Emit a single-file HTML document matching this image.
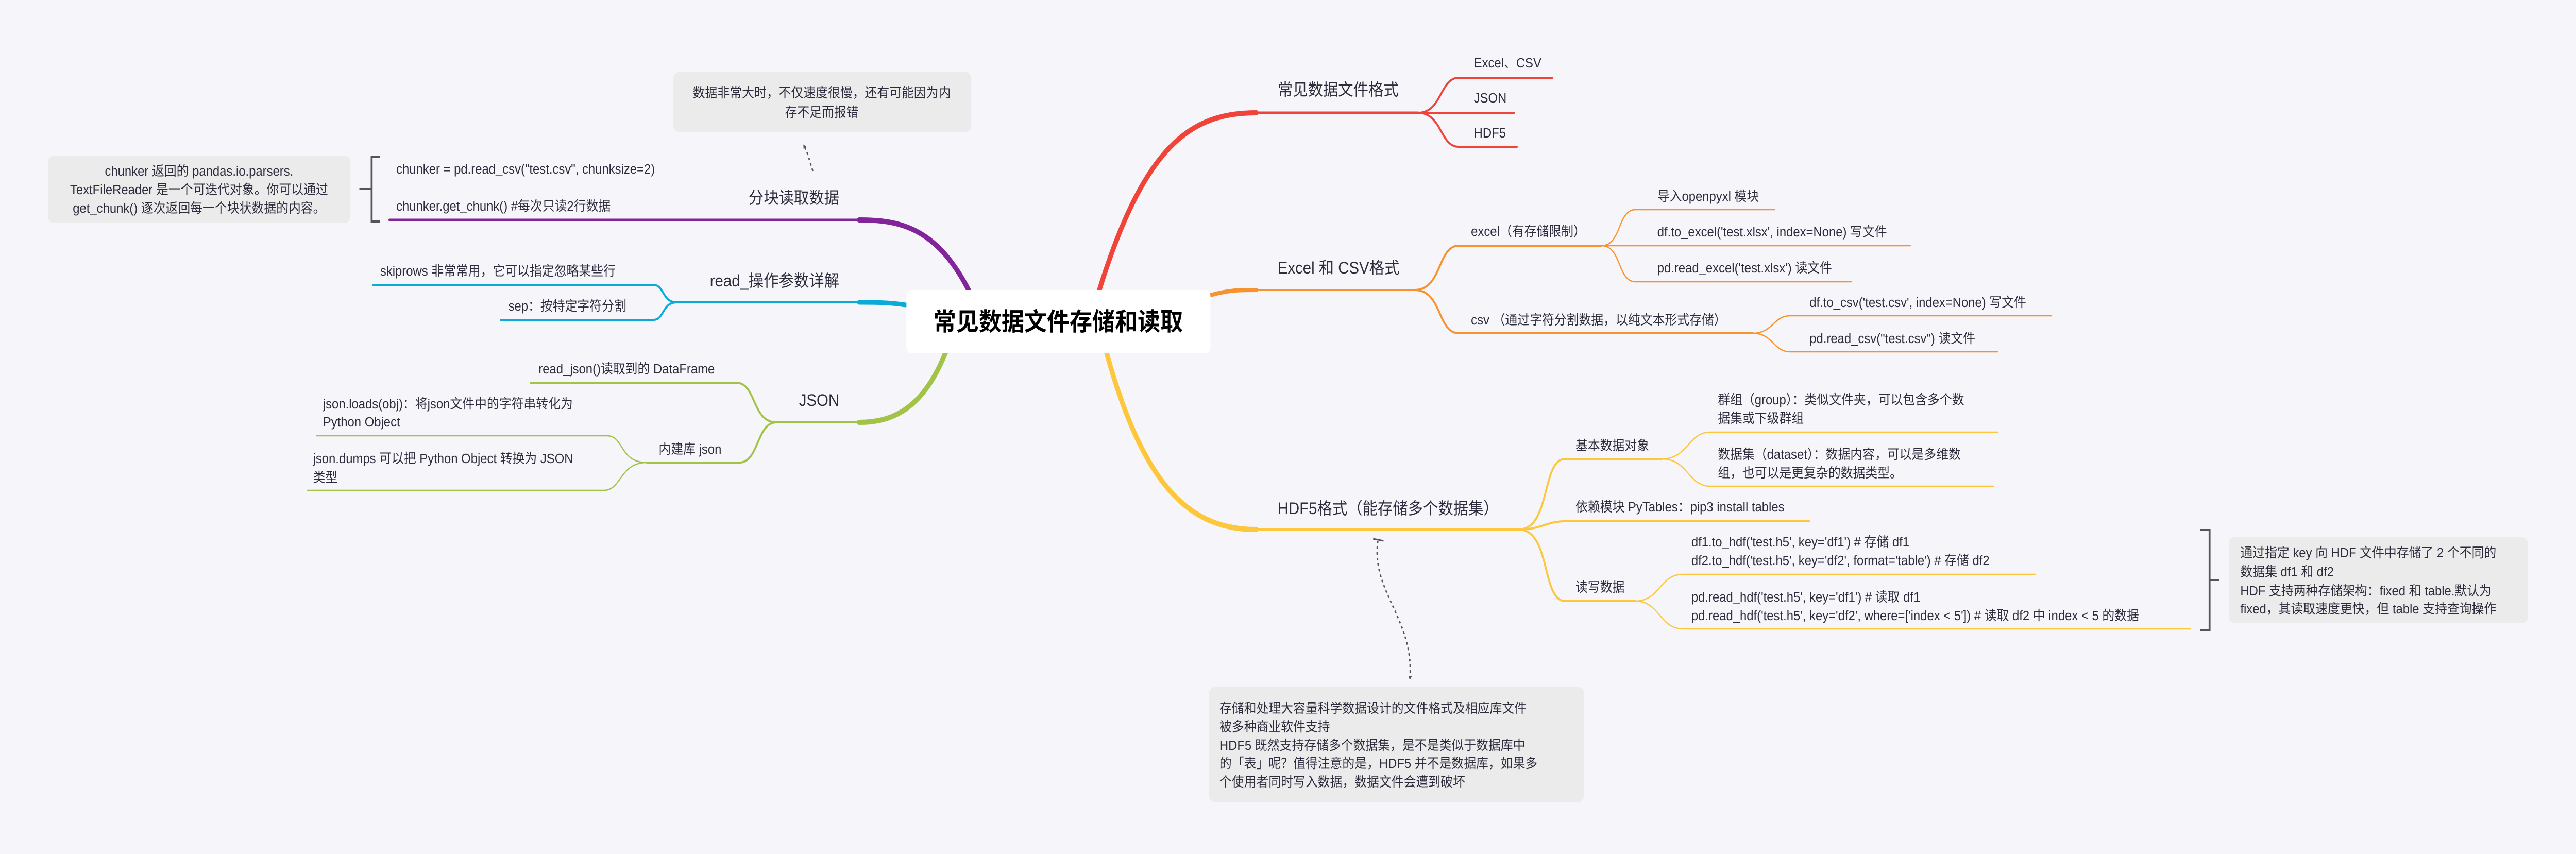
<!DOCTYPE html>
<html><head><meta charset="utf-8"><style>
html,body{margin:0;padding:0;background:#f5f5fa;width:100%;height:100%;overflow:hidden;}
svg{display:block;position:absolute;left:0;top:0;width:100vw;height:100vh;}
text{font-family:"Liberation Sans","Noto Sans CJK SC",sans-serif;fill:#2c2c3c;}
</style></head><body>
<svg viewBox="0 0 5448 1658" preserveAspectRatio="none" xmlns="http://www.w3.org/2000/svg">
<defs>
<marker id="ah" markerWidth="8" markerHeight="8" refX="4" refY="4" orient="auto" markerUnits="userSpaceOnUse" viewBox="0 0 8 8"><path d="M0,0 L8,4 L0,8 z" fill="#555"/></marker>
</defs>
<rect width="5448" height="1658" fill="#f5f5fa"/>

<rect x="1424" y="140" width="630" height="116" rx="12" fill="#ebebeb"/>
<rect x="102" y="302" width="639" height="131" rx="12" fill="#ebebeb"/>
<rect x="2557" y="1334" width="793" height="223" rx="12" fill="#ebebeb"/>
<rect x="4714" y="1043" width="632" height="167" rx="12" fill="#ebebeb"/>

<g fill="none" stroke-linecap="round">
<path d="M2324,566 C2420,280 2520,219 2657,219" stroke="#f0433a" stroke-width="10"/>
<path d="M2657,219 L2999,219" stroke="#f0433a" stroke-width="5"/>
<path d="M2999,219 C3050,219 3045,151 3085,151 L3283,151 M2999,219 L3202,219 M2999,219 C3050,219 3045,285 3085,285 L3208,285" stroke="#f0433a" stroke-width="4"/>

<path d="M2560,573 C2600,563 2620,563 2657,563" stroke="#f8922f" stroke-width="8"/>
<path d="M2657,563 L2992,563" stroke="#f8922f" stroke-width="4"/>
<path d="M2992,563 C3050,563 3040,477 3085,477 L3387,477 M2992,563 C3050,563 3040,647 3085,647 L3707,647" stroke="#f8922f" stroke-width="4"/>
<path d="M3387,477 C3430,477 3420,407 3459,407 L3753,407 M3387,477 L4040,477 M3387,477 C3430,477 3420,547 3459,547 L3915,547 M3707,647 C3750,647 3750,613 3786,613 L4339,613 M3707,647 C3750,647 3750,683 3786,683 L4225,683" stroke="#f8922f" stroke-width="2.5"/>

<path d="M2340,684 C2420,950 2520,1028 2657,1028" stroke="#fcc73c" stroke-width="10"/>
<path d="M2657,1028 L3212,1028" stroke="#fcc73c" stroke-width="4"/>
<path d="M3212,1028 C3280,1028 3260,891 3310,891 L3515,891 M3212,1028 C3260,1028 3270,1012 3310,1012 L3826,1012 M3212,1028 C3280,1028 3260,1167 3310,1167 L3459,1167" stroke="#fcc73c" stroke-width="4"/>
<path d="M3515,891 C3570,891 3570,839 3617,839 L4225,839 M3515,891 C3570,891 3570,944 3617,944 L4216,944 M3459,1167 C3510,1167 3510,1115 3559,1115 L4305,1115 M3459,1167 C3510,1167 3510,1221 3559,1221 L4632,1221" stroke="#fcc73c" stroke-width="2.5"/>

<path d="M2049,564 C1980,440 1900,427 1817,427" stroke="#83259a" stroke-width="10"/>
<path d="M1817,427 L824,427" stroke="#83259a" stroke-width="5"/>

<path d="M1915,592 C1880,587 1850,587 1817,587" stroke="#0aabd6" stroke-width="9"/>
<path d="M1817,587 L1431,587" stroke="#0aabd6" stroke-width="4"/>
<path d="M1431,587 C1400,587 1405,553 1382,553 L789,553 M1431,587 C1400,587 1405,621 1382,621 L1059,621" stroke="#0aabd6" stroke-width="4"/>

<path d="M2000,684 C1950,800 1880,820 1817,820" stroke="#a1c447" stroke-width="10"/>
<path d="M1817,820 L1642,820" stroke="#a1c447" stroke-width="4"/>
<path d="M1642,820 C1590,820 1600,743 1557,743 L1122,743 M1642,820 C1600,820 1605,898 1564,898 L1368,898" stroke="#a1c447" stroke-width="4"/>
<path d="M1368,898 C1310,898 1320,846 1284,846 L669,846 M1368,898 C1310,898 1315,952 1277,952 L650,952" stroke="#a1c447" stroke-width="2.5"/>
</g>

<rect x="1917" y="563" width="643" height="123" rx="12" fill="#ffffff"/>
<text x="2238" y="641" text-anchor="middle" font-size="48" font-weight="bold" style="fill:#000">常见数据文件存储和读取</text>

<g fill="none" stroke="#555" stroke-width="4">
<path d="M804,304 L786,304 L786,430 L804,430 M786,367 L760,367"/>
<path d="M4653,1029 L4673,1029 L4673,1223 L4653,1223 M4673,1126 L4694,1126"/>
</g>

<g fill="none" stroke="#555" stroke-width="3" stroke-dasharray="5,6">
<path d="M1719,332 C1712,312 1708,296 1701,284" marker-end="url(#ah)"/>
<path d="M2914,1050 C2900,1150 2990,1200 2982,1316" marker-end="url(#ah)"/>
</g>
<path d="M2904,1046 L2926,1050" stroke="#555" stroke-width="3"/>

<g font-size="32">
<text x="2702" y="185">常见数据文件格式</text>
<text x="2702" y="531">Excel 和 CSV格式</text>
<text x="2702" y="998">HDF5格式（能存储多个数据集）</text>
<text x="1775" y="395" text-anchor="end">分块读取数据</text>
<text x="1775" y="556" text-anchor="end">read_操作参数详解</text>
<text x="1775" y="788" text-anchor="end">JSON</text>
</g>
<g font-size="26">
<text x="3117" y="131">Excel、CSV</text>
<text x="3117" y="199">JSON</text>
<text x="3117" y="267">HDF5</text>
<text x="3111" y="458">excel（有存储限制）</text>
<text x="3111" y="630">csv （通过字符分割数据，以纯文本形式存储）</text>
<text x="3505" y="390">导入openpyxl 模块</text>
<text x="3505" y="459">df.to_excel('test.xlsx', index=None) 写文件</text>
<text x="3505" y="529">pd.read_excel('test.xlsx') 读文件</text>
<text x="3827" y="596">df.to_csv('test.csv', index=None)  写文件</text>
<text x="3827" y="666">pd.read_csv("test.csv")  读文件</text>
<text x="3332" y="874">基本数据对象</text>
<text x="3633" y="785">群组（group）：类似文件夹，可以包含多个数</text>
<text x="3633" y="821">据集或下级群组</text>
<text x="3633" y="891">数据集（dataset）：数据内容，可以是多维数</text>
<text x="3633" y="927">组，也可以是更复杂的数据类型。</text>
<text x="3332" y="993">依赖模块 PyTables：pip3 install tables</text>
<text x="3332" y="1149">读写数据</text>
<text x="3577" y="1061">df1.to_hdf('test.h5', key='df1')  # 存储 df1</text>
<text x="3577" y="1097">df2.to_hdf('test.h5', key='df2', format='table')  # 存储 df2</text>
<text x="3577" y="1168">pd.read_hdf('test.h5', key='df1')  # 读取 df1</text>
<text x="3577" y="1204">pd.read_hdf('test.h5', key='df2', where=['index &lt; 5']) # 读取 df2 中 index &lt; 5 的数据</text>
<text x="4738" y="1082">通过指定 key 向 HDF 文件中存储了 2 个不同的</text>
<text x="4738" y="1119">数据集 df1 和 df2</text>
<text x="4738" y="1156">HDF 支持两种存储架构：fixed 和 table.默认为</text>
<text x="4738" y="1191">fixed，其读取速度更快，但 table 支持查询操作</text>
<text x="2579" y="1384">存储和处理大容量科学数据设计的文件格式及相应库文件</text>
<text x="2579" y="1420">被多种商业软件支持</text>
<text x="2579" y="1456">HDF5 既然支持存储多个数据集，是不是类似于数据库中</text>
<text x="2579" y="1491">的「表」呢？值得注意的是，HDF5 并不是数据库，如果多</text>
<text x="2579" y="1527">个使用者同时写入数据，数据文件会遭到破坏</text>
<text x="1738" y="189" text-anchor="middle">数据非常大时，不仅速度很慢，还有可能因为内</text>
<text x="1738" y="227" text-anchor="middle">存不足而报错</text>
<text x="421" y="341" text-anchor="middle">chunker 返回的 pandas.io.parsers.</text>
<text x="421" y="377" text-anchor="middle">TextFileReader 是一个可迭代对象。你可以通过</text>
<text x="421" y="413" text-anchor="middle">get_chunk() 逐次返回每一个块状数据的内容。</text>
<text x="838" y="337">chunker = pd.read_csv("test.csv", chunksize=2)</text>
<text x="838" y="409">chunker.get_chunk() #每次只读2行数据</text>
<text x="804" y="535">skiprows 非常常用，它可以指定忽略某些行</text>
<text x="1075" y="603">sep：按特定字符分割</text>
<text x="1139" y="725">read_json()读取到的 DataFrame</text>
<text x="1393" y="881">内建库 json</text>
<text x="683" y="793">json.loads(obj)：将json文件中的字符串转化为</text>
<text x="683" y="828">Python Object</text>
<text x="662" y="899">json.dumps 可以把 Python Object 转换为 JSON</text>
<text x="662" y="936">类型</text>
</g>
</svg>
</body></html>
